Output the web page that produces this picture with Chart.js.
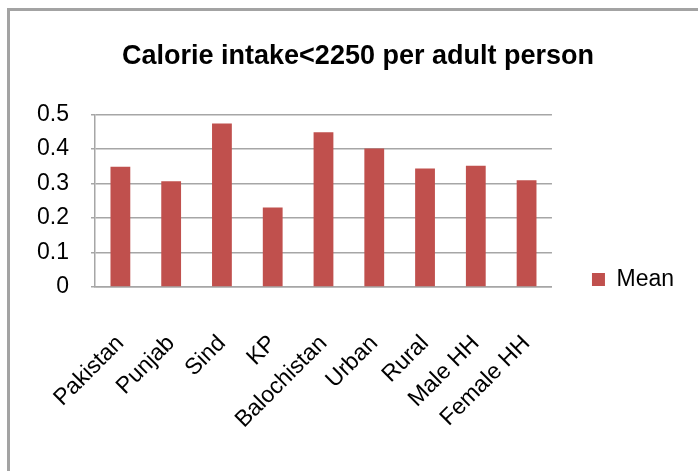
<!DOCTYPE html>
<html>
<head>
<meta charset="utf-8">
<script src="https://cdn.jsdelivr.net/npm/chart.js@4/dist/chart.umd.min.js"></script>
<style>
    html, body { margin: 0; padding: 0; background: #fff; overflow: hidden; width: 698px; height: 471px; }
    #frame {
        position: absolute; left: 7px; top: 8px;
        width: 700px; height: 470px;
        border-top: 3px solid #a3a3a3; border-left: 3px solid #a3a3a3;
    }
    #chart-box { position: absolute; left: 0; top: 0; width: 700px; height: 460px; }
</style>
</head>
<body>
<div id="frame">
    <div id="chart-box"><canvas id="calorie-chart"></canvas></div>
</div>
<script>
const categories = ["Pakistan", "Punjab", "Sind", "KP", "Balochistan", "Urban", "Rural", "Male HH", "Female HH"]
const meanValues = [0.348, 0.306, 0.474, 0.230, 0.448, 0.401, 0.343, 0.351, 0.309]
const yTicks = [0, 0.1, 0.2, 0.3, 0.4, 0.5]

const barColor = "#c0504d"
const gridColor = "#a6a6a6"
const fontFamily = "'Liberation Sans', Arial, sans-serif"

const chartCanvas = document.getElementById("calorie-chart")

// excel puts the legend by the plot's lower edge and centres the title on the whole frame
const boxPlacer = {
    id: "boxPlacer",
    afterLayout(chart) {
        const lg = chart.legend
        const area = chart.chartArea
        lg.left += 30
        lg.right += 30
        lg.top = area.top
        lg.bottom = area.bottom + 14
        lg.height = lg.bottom - lg.top

        const tb = chart.titleBlock
        tb.left = 0
        tb.right = 696
        tb.width = 696
    }
}

new Chart(chartCanvas.getContext("2d"), {
    type: "bar",
    data: {
        labels: categories,
        datasets: [{
            label: "Mean",
            data: meanValues,
            backgroundColor: barColor,
            borderWidth: 0,
            barPercentage: 0.39,
            categoryPercentage: 1,
        }]
    },
    options: {
        responsive: true,
        maintainAspectRatio: false,
        animation: false,
        layout: { padding: { left: 0, right: 56, top: 0, bottom: 0 } },
        plugins: {
            title: {
                display: true,
                text: "Calorie intake<2250 per adult person",
                color: "#000",
                font: { family: fontFamily, size: 27, weight: "bold" },
                padding: { top: 29, bottom: 42 }
            },
            legend: {
                display: true,
                position: "right",
                align: "end",
                labels: {
                    color: "#000",
                    font: { family: fontFamily, size: 23 },
                    boxWidth: 13,
                    boxHeight: 13,
                    padding: 10
                }
            },
            tooltip: { enabled: false }
        },
        scales: {
            x: {
                grid: { display: false },
                border: { display: true, color: gridColor, width: 1.5 },
                ticks: {
                    color: "#000",
                    font: { family: fontFamily, size: 23 },
                    minRotation: 45,
                    maxRotation: 45,
                    padding: 35
                },
                afterFit: (scale) => { scale.height = 184 }
            },
            y: {
                min: 0,
                max: 0.5,
                afterBuildTicks: (scale) => { scale.ticks = yTicks.map(v => ({ value: v })) },
                grid: { color: gridColor, lineWidth: 1.5, tickLength: 4 },
                border: { display: true, color: gridColor, width: 1.5 },
                ticks: {
                    color: "#000",
                    font: { family: fontFamily, size: 23 },
                    padding: 22
                },
                afterFit: (scale) => { scale.width = 85 }
            }
        }
    },
    plugins: [boxPlacer]
})
</script>
</body>
</html>
